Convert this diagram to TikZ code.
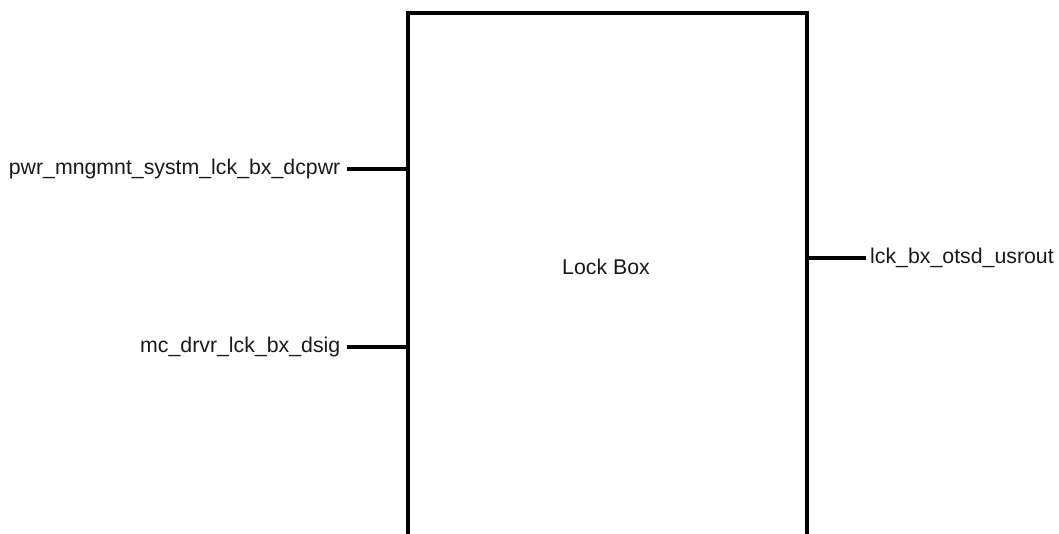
\documentclass[tikz,border=0pt]{standalone}
\usepackage{fontspec}
\setmainfont{Liberation Sans}
\usetikzlibrary{positioning}

\tikzset{
  block/.style={minimum width=399pt,minimum height=520pt,inner sep=0pt,outer sep=0pt},
  frame/.style={line width=4pt,line cap=rect},
  port/.style={line width=4pt},
  sig/.style={inner sep=3pt,font=\fontsize{21.3}{25}\selectfont,text=black!90},
  insig/.style={sig,anchor=east,inner xsep=6.5pt},
  outsig/.style={sig,anchor=west,inner xsep=4pt},
  title/.style={inner sep=0pt,font=\fontsize{21.3}{25}\selectfont,text=black!90}
}

\begin{document}
\begin{tikzpicture}[x=1pt,y=-1pt]
\useasboundingbox (0,0) rectangle (1059,533);
% component
\node[block] (box) at (607.5,273) {};
\draw[frame] (box.south west) |- (box.north east) -- (box.south east);
\node[title] (boxname) at (606,266.5) {Lock Box};
% inputs
\node[insig] (dcpwr) at (347,169) {pwr\_mngmnt\_systm\_lck\_bx\_dcpwr};
\node[insig] (dsig) at (347,347) {mc\_drvr\_lck\_bx\_dsig};
\draw[port] (dcpwr.east) -- (dcpwr.east -| box.west);
\draw[port] (dsig.east) -- (dsig.east -| box.west);
% output
\node[outsig] (usrout) at (866,258) {lck\_bx\_otsd\_usrout};
\draw[port] (usrout.west -| box.east) -- (usrout.west);
\end{tikzpicture}
\end{document}
